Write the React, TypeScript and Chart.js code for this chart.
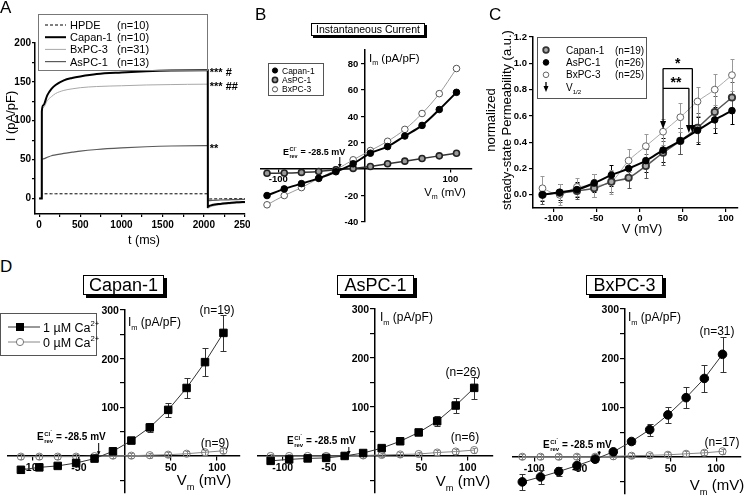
import React, { useEffect, useRef } from 'react';
import { Chart, registerables } from 'chart.js';

Chart.register(...registerables);
const FF = '"Liberation Sans", Arial, Helvetica, sans-serif';
Chart.defaults.font.family = FF;

/* ================= DATA ================= */
// Panel A – current traces (t in ms, I in pA/pF)
const A_TIME_MS = [0, 32, 33, 50, 100, 150, 200, 300, 400, 500, 700, 1000, 1300, 1600, 2000, 2048, 2049, 2060, 2100, 2200, 2300, 2400, 2500];
const A_HPDE = [0, 0, 6, 6, 6, 6, 6, 6, 6, 6, 6, 6, 6, 6, 6, 6, -1, -0.8, -0.6, -0.5, -0.4, -0.3, -0.3];
const A_CAPAN = [0, 0, 112, 120, 133, 141, 146, 152, 155, 157, 160, 162, 163.5, 164.5, 165, 165, -11, -10, -8.5, -7, -6, -5, -4.5];
const A_BXPC = [0, 0, 112, 117, 126, 131, 135, 139, 141, 142.5, 144, 145, 146, 146.5, 147, 147, -13, -12, -10, -8, -7, -6, -5.5];
const A_ASPC = [0, 0, 50, 51, 53, 55, 56, 58, 59.5, 61, 63, 65, 66.5, 67.5, 68, 68, -3, -2.8, -2.4, -2, -1.7, -1.4, -1.2];
const A_X_TICKS = [0, 250, 500, 750, 1000, 1250, 1500, 1750, 2000, 2250, 2500];
const A_Y_TICKS = [0, 25, 50, 75, 100, 125, 150, 175, 200];
const A_NAMES = ['HPDE', 'Capan-1', 'BxPC-3', 'AsPC-1'];
const A_N = ['(n=10)', '(n=10)', '(n=31)', '(n=13)'];
const A_STARS = ['*** #', '*** ##', '**'];

// Panel B – instantaneous current (Vm in mV, Im in pA/pF)
const IV_MV = [-113, -93, -73, -53, -33, -13, 7, 27, 47, 67, 87, 107];
const B_CAPAN = [-20, -15, -11, -7, -2, 4, 12, 17, 25, 33, 45, 58];
const B_ASPC = [-3.2, -3, -2.5, -1.8, -0.5, 0.5, 2, 4, 6, 8, 10, 12];
const B_BXPC = [-27, -20, -14, -7, -0.5, 7, 14, 21, 30, 42, 57, 76];
const B_X_TICKS = [-100, 100];
const B_Y_TICKS = [-40, -20, 20, 40, 60, 80];

// Panel C – normalized steady-state permeability
const C_CAPAN = [0, 0.015, 0.03, 0.05, 0.1, 0.13, 0.22, 0.32, 0.41, 0.51, 0.63, 0.74];
const C_CAPAN_SE = [0.07, 0.07, 0.06, 0.07, 0.08, 0.08, 0.09, 0.09, 0.1, 0.11, 0.12, 0.12];
const C_ASPC = [0, 0.02, 0.04, 0.09, 0.15, 0.2, 0.26, 0.34, 0.41, 0.49, 0.57, 0.64];
const C_ASPC_SE = [0.05, 0.06, 0.06, 0.07, 0.08, 0.08, 0.09, 0.09, 0.1, 0.1, 0.1, 0.1];
const C_BXPC = [0.05, 0, 0.06, 0.07, 0.1, 0.26, 0.37, 0.48, 0.59, 0.71, 0.8, 0.91];
const C_BXPC_SE = [0.09, 0.08, 0.07, 0.09, 0.09, 0.09, 0.09, 0.1, 0.11, 0.11, 0.12, 0.12];
const C_VHALF = [27, 57, 61]; // BxPC-3, Capan-1, AsPC-1
const C_X_TICKS = [-100, -50, 0, 50, 100];
const C_Y_TICKS = [0, 0.2, 0.4, 0.6, 0.8, 1.0, 1.2];

// Panel D – I/V with 1 µM or 0 µM Ca2+
const D_CAPAN_1 = [-28, -23, -20, -14, -5, 10, 32, 59, 95, 140, 193, 253];
const D_CAPAN_1_SE = [6, 5, 4, 4, 3, 3, 4, 10, 15, 21, 28, 37];
const D_CAPAN_0 = [-1, -1, -1, -1, 0, 1, 1, 2, 3, 5, 8, 11];
const D_CAPAN_0_SE = [5, 5, 5, 5, 5, 5, 5, 5, 5, 5, 5, 5];
const D_ASPC_1 = [-10, -7, -5, -4, 0, 6, 16, 30, 48, 71, 103, 139];
const D_ASPC_1_SE = [4, 3, 3, 3, 3, 3, 4, 5, 6, 10, 16, 22];
const D_ASPC_0 = [0, 0, 0, 0, 0, 1, 2, 3, 4, 7, 9, 12];
const D_ASPC_0_SE = [5, 5, 5, 5, 5, 5, 5, 5, 5, 5, 5, 5];
const D_BXPC_1 = [-51, -41, -30, -18, -5, 10, 31, 55, 85, 120, 159, 208];
const D_BXPC_1_SE = [17, 14, 10, 8, 5, 4, 5, 12, 17, 22, 28, 35];
const D_BXPC_0 = [0, 0, 0, 0, 0, 1, 2, 3, 4, 6, 8, 11];
const D_BXPC_0_SE = [5, 5, 5, 5, 5, 5, 5, 5, 5, 5, 5, 5];
const D_X_TICKS = [-100, -50, 50, 100];
const D_Y_TICKS = [-50, 50, 100, 150, 200, 250, 300];
const E_REV_MV = -28.5;

/* ================= HELPERS ================= */
const fnt = (size: number, weight = 'normal') => `${weight} ${size}px ${FF}`;
const pts = (xs: number[], ys: number[]) => xs.map((x, i) => ({ x, y: ys[i] }));

type Seg = [string, number?];
function rich(ctx: any, segs: Seg[], x: number, y: number, size: number, weight = 'normal', align = 'left', color = '#000') {
  ctx.save();
  ctx.fillStyle = color;
  ctx.textBaseline = 'alphabetic';
  ctx.textAlign = 'left';
  const parts = segs.map(([t, m = 0]) => {
    const s = m ? size * 0.62 : size;
    ctx.font = fnt(s, weight);
    return { t, m, s, w: ctx.measureText(t).width };
  });
  const total = parts.reduce((a, p) => a + p.w, 0);
  let cx = align === 'center' ? x - total / 2 : align === 'right' ? x - total : x;
  for (const p of parts) {
    ctx.font = fnt(p.s, weight);
    const dy = p.m === 1 ? size * 0.3 : p.m === 2 ? -size * 0.42 : 0;
    ctx.fillText(p.t, cx, y + dy);
    cx += p.w;
  }
  ctx.restore();
}
function richRot(ctx: any, segs: Seg[], cx: number, cy: number, size: number, weight = 'normal') {
  ctx.save();
  ctx.translate(cx, cy);
  ctx.rotate(-Math.PI / 2);
  rich(ctx, segs, 0, size * 0.36, size, weight, 'center');
  ctx.restore();
}
function erev(ctx: any, x: number, y: number, size: number) {
  ctx.save();
  ctx.fillStyle = '#000';
  ctx.textAlign = 'left';
  ctx.textBaseline = 'alphabetic';
  ctx.font = fnt(size, 'bold');
  ctx.fillText('E', x, y);
  let cx = x + ctx.measureText('E').width + 0.5;
  ctx.font = fnt(size * 0.6, 'bold');
  ctx.fillText('Cl', cx, y - size * 0.45);
  const wCl = ctx.measureText('Cl').width;
  ctx.fillText('rev', cx, y + size * 0.32);
  const wRev = ctx.measureText('rev').width;
  ctx.font = fnt(size * 0.45, 'bold');
  ctx.fillText('-', cx + wCl + 0.3, y - size * 0.78);
  cx += Math.max(wCl + 3, wRev);
  ctx.font = fnt(size, 'bold');
  ctx.fillText(' = -28.5 mV', cx, y);
  ctx.restore();
}
function downArrow(ctx: any, x: number, y1: number, y2: number, head = 7, half = 3, width = 1.3) {
  ctx.save();
  ctx.strokeStyle = '#000';
  ctx.fillStyle = '#000';
  ctx.lineWidth = width;
  ctx.beginPath();
  ctx.moveTo(x, y1);
  ctx.lineTo(x, y2 - head + 1);
  ctx.stroke();
  ctx.beginPath();
  ctx.moveTo(x - half, y2 - head);
  ctx.lineTo(x + half, y2 - head);
  ctx.lineTo(x, y2);
  ctx.closePath();
  ctx.fill();
  ctx.restore();
}
function marker(ctx: any, style: string, x: number, y: number, r: number, fill: string, stroke: string, lw: number) {
  ctx.save();
  ctx.fillStyle = fill;
  ctx.strokeStyle = stroke;
  ctx.lineWidth = lw;
  ctx.beginPath();
  if (style === 'rect') ctx.rect(x - r, y - r, 2 * r, 2 * r);
  else ctx.arc(x, y, r, 0, Math.PI * 2);
  ctx.fill();
  if (lw > 0) ctx.stroke();
  ctx.restore();
}
function hline(ctx: any, x1: number, x2: number, y: number, color: string, w: number, dash: number[] = []) {
  ctx.save();
  ctx.strokeStyle = color;
  ctx.lineWidth = w;
  ctx.setLineDash(dash);
  ctx.beginPath();
  ctx.moveTo(x1, y);
  ctx.lineTo(x2, y);
  ctx.stroke();
  ctx.restore();
}

function axis(o: { min: number; max: number; ticks: number[]; label: (v: number) => string; size: number; font: number; tick: number; pad: number; position?: any; hideLabels?: boolean }) {
  const a: any = {
    type: 'linear',
    min: o.min,
    max: o.max,
    afterBuildTicks: (s: any) => {
      s.ticks = o.ticks.map((v) => ({ value: v }));
    },
    afterFit: (s: any) => {
      if (s.isHorizontal()) s.height = o.size;
      else s.width = o.size;
      s.paddingLeft = 0;
      s.paddingRight = 0;
      s.paddingTop = 0;
      s.paddingBottom = 0;
    },
    grid: { display: true, drawOnChartArea: false, drawTicks: true, tickLength: o.tick, color: '#000', lineWidth: 1.2 },
    border: { display: true, color: '#000', width: 1.5 },
    ticks: {
      display: !o.hideLabels,
      color: '#000',
      font: { family: FF, size: o.font, weight: 'bold' },
      padding: o.pad,
      autoSkip: false,
      maxRotation: 0,
      minRotation: 0,
      callback: (v: any) => o.label(Number(v)),
    },
  };
  if (o.position) a.position = o.position;
  return a;
}

// tick labels of a y axis that crosses at x = 0 (drawn from the scale's own ticks)
function centerYLabels(ctx: any, chart: any, X: (v: number) => number, Y: (v: number) => number, label: (v: number) => string, size: number, gap: number) {
  chart.scales.y.ticks.forEach((t: any) => {
    const s = label(t.value);
    if (s) rich(ctx, [[s]], X(0) - gap, Y(t.value) + size * 0.36, size, 'bold', 'right');
  });
}

function overlay(ox: number, oy: number, fn: (ctx: any, X: (v: number) => number, Y: (v: number) => number, chart: any) => void) {
  return {
    id: 'overlay',
    afterDraw(chart: any) {
      const ctx = chart.ctx;
      ctx.save();
      ctx.translate(-ox, -oy);
      fn(ctx, (v) => chart.scales.x.getPixelForValue(v) + ox, (v) => chart.scales.y.getPixelForValue(v) + oy, chart);
      ctx.restore();
    },
  };
}
function errorBars(sets: { ds: number; err: number[]; color: string; cap: number }[]) {
  return {
    id: 'errorBars',
    beforeDatasetsDraw(chart: any) {
      const ctx = chart.ctx;
      const X = chart.scales.x;
      const Y = chart.scales.y;
      for (const s of sets) {
        const data = chart.data.datasets[s.ds].data;
        ctx.save();
        ctx.strokeStyle = s.color;
        ctx.lineWidth = 1;
        ctx.beginPath();
        data.forEach((p: any, i: number) => {
          const x = Math.round(X.getPixelForValue(p.x)) + 0.5;
          const y1 = Math.round(Y.getPixelForValue(p.y - s.err[i])) + 0.5;
          const y2 = Math.round(Y.getPixelForValue(p.y + s.err[i])) + 0.5;
          ctx.moveTo(x, y1);
          ctx.lineTo(x, y2);
          ctx.moveTo(x - s.cap, y1);
          ctx.lineTo(x + s.cap, y1);
          ctx.moveTo(x - s.cap, y2);
          ctx.lineTo(x + s.cap, y2);
        });
        ctx.stroke();
        ctx.restore();
      }
    },
  };
}
function baseOptions(padding: any, scales: any) {
  return {
    responsive: false,
    animation: false,
    devicePixelRatio: 1,
    events: [],
    layout: { padding },
    plugins: { legend: { display: false }, tooltip: { enabled: false } },
    scales,
  };
}
function traceDs(xs: number[], ys: number[], color: string, width: number, dash: number[] = []) {
  return { data: pts(xs, ys), showLine: true, borderColor: color, borderWidth: width, borderDash: dash, pointRadius: 0, fill: false, cubicInterpolationMode: 'monotone', clip: false };
}
function ivDs(xs: number[], ys: number[], line: string, lw: number, style: string, r: number, fill: string, stroke: string, pbw: number, smooth = true) {
  return {
    data: pts(xs, ys),
    showLine: true,
    borderColor: line,
    borderWidth: lw,
    pointStyle: style,
    pointRadius: r,
    pointBackgroundColor: fill,
    pointBorderColor: stroke,
    pointBorderWidth: pbw,
    fill: false,
    cubicInterpolationMode: smooth ? 'monotone' : 'default',
    tension: 0,
    clip: false,
  };
}

/* ================= PANELS ================= */
function makeA() {
  const ox = 0, oy = 0;
  return {
    type: 'scatter',
    data: {
      datasets: [
        traceDs(A_TIME_MS, A_CAPAN, '#000', 2),
        traceDs(A_TIME_MS, A_BXPC, '#a8a8a8', 1),
        traceDs(A_TIME_MS, A_ASPC, '#5a5a5a', 1.2),
        traceDs(A_TIME_MS, A_HPDE, '#000', 1, [3, 2]),
      ],
    },
    options: baseOptions({ left: 0, right: 5, top: 43, bottom: 0 }, {
      x: axis({ min: -50, max: 2500, ticks: A_X_TICKS, label: (v) => (v % 500 === 0 ? String(v) : ''), size: 36, font: 10, tick: 3, pad: 2 }),
      y: axis({ min: -20, max: 200, ticks: A_Y_TICKS, label: (v) => (v % 50 === 0 ? String(v) : ''), size: 35, font: 10, tick: 3, pad: 1 }),
    }),
    plugins: [
      overlay(ox, oy, (ctx, X, Y) => {
        ctx.strokeStyle = '#777';
        ctx.lineWidth = 1;
        ctx.strokeRect(38.5, 14.5, 169, 56);
        const styles: [string, number, number[]][] = [['#000', 1, [3, 2]], ['#000', 2, []], ['#a8a8a8', 1, []], ['#5a5a5a', 1.2, []]];
        A_NAMES.forEach((name, i) => {
          const yy = 25 + i * 12.2;
          hline(ctx, 45, 66, yy, styles[i][0], styles[i][1], styles[i][2]);
          rich(ctx, [[name]], 70, yy + 4, 11);
          rich(ctx, [[A_N[i]]], 117, yy + 4, 11);
        });
        const ends = [A_CAPAN[15], A_BXPC[15], A_ASPC[15]];
        A_STARS.forEach((s, i) => rich(ctx, [[s]], X(A_TIME_MS[15]) + 2, Y(ends[i]) + 6, 11, 'bold'));
        richRot(ctx, [['I (pA/pF)']], 10, 116, 13);
        rich(ctx, [['t (ms)']], 144, 244, 12.5, 'normal', 'center');
      }),
    ],
  };
}

function makeB() {
  const ox = 240, oy = 0;
  return {
    type: 'scatter',
    data: {
      datasets: [
        ivDs(IV_MV, B_CAPAN, '#000', 2, 'circle', 3.3, '#000', '#000', 1),
        ivDs(IV_MV, B_ASPC, '#333', 1.5, 'circle', 3, '#9a9a9a', '#222', 1.6),
        ivDs(IV_MV, B_BXPC, '#9a9a9a', 1, 'circle', 3.3, '#fff', '#555', 1),
      ],
    },
    options: baseOptions({ left: 21, right: 28, top: 50, bottom: 28 }, {
      x: axis({ min: -120, max: 125, ticks: B_X_TICKS, label: (v) => String(v), size: 0, font: 9.5, tick: 3, pad: 2, position: { y: 0 } }),
      y: axis({ min: -40, max: 90, ticks: B_Y_TICKS, label: (v) => String(v), size: 0, font: 9.5, tick: 3, pad: 2, position: { x: 0 }, hideLabels: true }),
    }),
    plugins: [
      overlay(ox, oy, (ctx, X, Y, chart) => {
        centerYLabels(ctx, chart, X, Y, (v) => String(v), 9.5, 6);
        ctx.strokeStyle = '#555';
        ctx.lineWidth = 1;
        ctx.strokeRect(268.5, 63.5, 55, 32);
        const rows: [string, string, string, number][] = [['Capan-1', '#000', '#000', 1], ['AsPC-1', '#9a9a9a', '#222', 1.6], ['BxPC-3', '#fff', '#555', 1]];
        rows.forEach((r, i) => {
          const yy = 70.5 + i * 9.4;
          marker(ctx, 'circle', 275, yy, 2.6, r[1], r[2], r[3]);
          rich(ctx, [[r[0]]], 282, yy + 3, 8.5);
        });
        rich(ctx, [['I'], ['m', 1], [' (pA/pF)']], 369, 62, 11.5);
        erev(ctx, 283, 155, 9);
        downArrow(ctx, X(E_REV_MV), 157, Y(0) - 1, 4, 1.8, 1);
        rich(ctx, [['V'], ['m', 1], [' (mV)']], 445, 196, 11.5, 'normal', 'center');
      }),
    ],
  };
}

function makeC() {
  const ox = 478, oy = 0;
  return {
    type: 'scatter',
    data: {
      datasets: [
        ivDs(IV_MV, C_ASPC, '#000', 2, 'circle', 3.3, '#000', '#000', 1),
        ivDs(IV_MV, C_CAPAN, '#555', 1.5, 'circle', 3.2, '#aaa', '#333', 1.8),
        ivDs(IV_MV, C_BXPC, '#aaa', 1, 'circle', 3.4, '#fff', '#666', 1),
      ],
    },
    options: baseOptions({ left: 0, right: 8, top: 37, bottom: 0 }, {
      x: axis({ min: -124, max: 114, ticks: C_X_TICKS, label: (v) => String(v), size: 42, font: 9.5, tick: 4, pad: 1 }),
      y: axis({ min: -0.1, max: 1.2, ticks: C_Y_TICKS, label: (v) => v.toFixed(1), size: 55, font: 9.5, tick: 4, pad: 2 }),
    }),
    plugins: [
      errorBars([
        { ds: 0, err: C_ASPC_SE, color: '#000', cap: 2 },
        { ds: 1, err: C_CAPAN_SE, color: '#555', cap: 2 },
        { ds: 2, err: C_BXPC_SE, color: '#999', cap: 2 },
      ]),
      overlay(ox, oy, (ctx, X, Y) => {
        ctx.strokeStyle = '#555';
        ctx.lineWidth = 1;
        ctx.strokeRect(537.5, 37.5, 109, 61);
        const rows: [string, string, string, string, number][] = [
          ['Capan-1', '(n=19)', '#aaa', '#333', 1.8],
          ['AsPC-1', '(n=26)', '#000', '#000', 1],
          ['BxPC-3', '(n=25)', '#fff', '#666', 1],
        ];
        rows.forEach((r, i) => {
          const yy = 50 + i * 12.4;
          marker(ctx, 'circle', 546, yy, 2.8, r[2], r[3], r[4]);
          rich(ctx, [[r[0]]], 566, yy + 3.5, 10);
          rich(ctx, [[r[1]]], 615, yy + 3.5, 10);
        });
        downArrow(ctx, 546, 82, 92, 6, 2.5, 1.3);
        rich(ctx, [['V'], ['1/2', 1]], 566, 90.5, 10);
        const xl = X(C_VHALF[0]), xm = X(C_VHALF[1]), xr = X(C_VHALF[2]);
        const top1 = Y(0.96), top2 = Y(0.81);
        ctx.save();
        ctx.strokeStyle = '#000';
        ctx.lineWidth = 1.3;
        ctx.beginPath();
        ctx.moveTo(xl, top1);
        ctx.lineTo(xr, top1);
        ctx.moveTo(xl, top2);
        ctx.lineTo(xm, top2);
        ctx.stroke();
        ctx.restore();
        downArrow(ctx, xl, top1, Y(0.5), 8, 3, 1.3);
        downArrow(ctx, xm, top2, Y(0.47), 8, 3, 1.3);
        downArrow(ctx, xr, top1, Y(0.47), 8, 3, 1.3);
        rich(ctx, [['*']], (xl + xr) / 2, top1 - 1, 14, 'bold', 'center');
        rich(ctx, [['**']], (xl + xm) / 2, top2 - 1, 14, 'bold', 'center');
        rich(ctx, [['V (mV)']], 642, 233, 13, 'normal', 'center');
        richRot(ctx, [['normalized']], 490, 120, 13);
        richRot(ctx, [['steady-state Permeability (a.u.)']], 506, 120, 13);
      }),
    ],
  };
}

function makeD(o: any) {
  const yLabel = (v: number) => (v % 100 === 0 ? String(v) : '');
  return () => ({
    type: 'scatter',
    data: {
      datasets: [
        ivDs(IV_MV, o.on, '#333', 1, o.style, o.r, '#000', '#000', 1, false),
        ivDs(IV_MV, o.off, '#888', 1, 'circle', 3.6, 'rgba(255,255,255,0)', '#777', 1, false),
      ],
    },
    options: baseOptions(o.padding, {
      x: axis({ min: o.xmin, max: o.xmax, ticks: D_X_TICKS, label: (v) => String(v), size: 0, font: 10.5, tick: 4, pad: 2, position: { y: 0 } }),
      y: axis({ min: -75, max: 300, ticks: D_Y_TICKS, label: yLabel, size: 0, font: 10.5, tick: 4, pad: 3, position: { x: 0 }, hideLabels: true }),
    }),
    plugins: [
      errorBars([
        { ds: 0, err: o.onSe, color: '#333', cap: 3 },
        { ds: 1, err: o.offSe, color: '#888', cap: 2 },
      ]),
      overlay(o.ox, o.oy, (ctx, X, Y, chart) => {
        centerYLabels(ctx, chart, X, Y, yLabel, 10.5, 6);
        rich(ctx, [[o.nOn]], o.nOnPos[0], o.nOnPos[1], 12, 'normal', 'center');
        rich(ctx, [[o.nOff]], o.nOffPos[0], o.nOffPos[1], 12, 'normal', 'center');
        rich(ctx, [['I'], ['m', 1], [' (pA/pF)']], o.imPos[0], o.imPos[1], 12);
        erev(ctx, o.erevPos[0], o.erevPos[1], 10);
        downArrow(ctx, X(E_REV_MV), o.erevPos[1] + 3, Y(0) - 1, 4, 1.8, 1);
        rich(ctx, [['V'], ['m', 1], [' (mV)']], o.vmPos[0], o.vmPos[1], 15, 'normal', 'center');
        if (o.legend) {
          ctx.strokeStyle = '#555';
          ctx.lineWidth = 1;
          ctx.strokeRect(0.5, 313.5, 96, 42);
          hline(ctx, 8, 40, 327, '#333', 1);
          marker(ctx, 'rect', 20, 327, 4, '#000', '#000', 0);
          rich(ctx, [['1 µM Ca'], ['2+', 2]], 43, 331.5, 12.5);
          hline(ctx, 8, 40, 342, '#888', 1);
          marker(ctx, 'circle', 20, 342, 3.6, '#fff', '#777', 1);
          rich(ctx, [['0 µM Ca'], ['2+', 2]], 43, 346.5, 12.5);
        }
      }),
    ],
  });
}

const makeDCapan = makeD({
  ox: 0, oy: 290, padding: { left: 8, right: 10, top: 20, bottom: 1.5 }, xmin: -127, xmax: 125,
  on: D_CAPAN_1, onSe: D_CAPAN_1_SE, off: D_CAPAN_0, offSe: D_CAPAN_0_SE, style: 'rect', r: 5.3,
  nOn: '(n=19)', nOff: '(n=9)', nOnPos: [217, 314], nOffPos: [215, 447], imPos: [128, 326], erevPos: [37, 440], vmPos: [204, 485], legend: true,
});
const makeDAspc = makeD({
  ox: 250, oy: 290, padding: { left: 7.7, right: 7.3, top: 19, bottom: 0.4 }, xmin: -127, xmax: 127,
  on: D_ASPC_1, onSe: D_ASPC_1_SE, off: D_ASPC_0, offSe: D_ASPC_0_SE, style: 'rect', r: 5.3,
  nOn: '(n=26)', nOff: '(n=6)', nOnPos: [463, 376], nOffPos: [465, 441], imPos: [380, 321], erevPos: [287, 444], vmPos: [463, 486], legend: false,
});
const makeDBxpc = makeD({
  ox: 500, oy: 290, padding: { left: 12.3, right: 1.5, top: 19, bottom: 1.3 }, xmin: -124, xmax: 127,
  on: D_BXPC_1, onSe: D_BXPC_1_SE, off: D_BXPC_0, offSe: D_BXPC_0_SE, style: 'circle', r: 4.3,
  nOn: '(n=31)', nOff: '(n=17)', nOnPos: [717, 335], nOffPos: [722, 446], imPos: [628, 321], erevPos: [543, 448], vmPos: [717, 490], legend: false,
});

/* ================= COMPONENTS ================= */
function ChartCanvas({ x, y, w, h, make }: any) {
  const ref = useRef<HTMLCanvasElement>(null);
  useEffect(() => {
    const chart = new Chart(ref.current as HTMLCanvasElement, make() as any);
    return () => chart.destroy();
  }, []);
  return <canvas ref={ref} width={w} height={h} style={{ position: 'absolute', left: x, top: y, width: w, height: h }} />;
}

function TitleBox({ x, y, w, h, text, size, shadow }: any) {
  return (
    <div
      style={{
        position: 'absolute', left: x, top: y, width: w, height: h, boxSizing: 'border-box',
        border: '1px solid #000', boxShadow: `${shadow}px ${shadow}px 0 #000`, background: '#fff',
        font: `${size}px ${FF}`, lineHeight: `${h - 2}px`, textAlign: 'center', color: '#000', whiteSpace: 'nowrap',
      }}
    >
      {text}
    </div>
  );
}

function Letter({ x, y, t }: any) {
  return <div style={{ position: 'absolute', left: x, top: y, font: `17px ${FF}`, lineHeight: '17px', color: '#000' }}>{t}</div>;
}

export default function App() {
  useEffect(() => {
    document.body.style.margin = '0';
  }, []);
  return (
    <div style={{ position: 'absolute', left: 0, top: 0, width: 746, height: 499, background: '#fff', overflow: 'hidden' }}>
      <ChartCanvas x={0} y={0} w={250} h={250} make={makeA} />
      <ChartCanvas x={240} y={0} w={260} h={250} make={makeB} />
      <ChartCanvas x={478} y={0} w={268} h={250} make={makeC} />
      <ChartCanvas x={0} y={290} w={250} h={209} make={makeDCapan} />
      <ChartCanvas x={250} y={290} w={250} h={209} make={makeDAspc} />
      <ChartCanvas x={500} y={290} w={246} h={209} make={makeDBxpc} />
      <Letter x={0} y={-1} t="A" />
      <Letter x={255} y={6} t="B" />
      <Letter x={489} y={6} t="C" />
      <Letter x={0} y={258} t="D" />
      <TitleBox x={311} y={23} w={114} h={13} text="Instantaneous Current" size={10.5} shadow={2} />
      <TitleBox x={83} y={275} w={81} h={20} text="Capan-1" size={18} shadow={3} />
      <TitleBox x={337} y={275} w={77} h={20} text="AsPC-1" size={18} shadow={3} />
      <TitleBox x={586} y={275} w={77} h={20} text="BxPC-3" size={18} shadow={3} />
    </div>
  );
}
